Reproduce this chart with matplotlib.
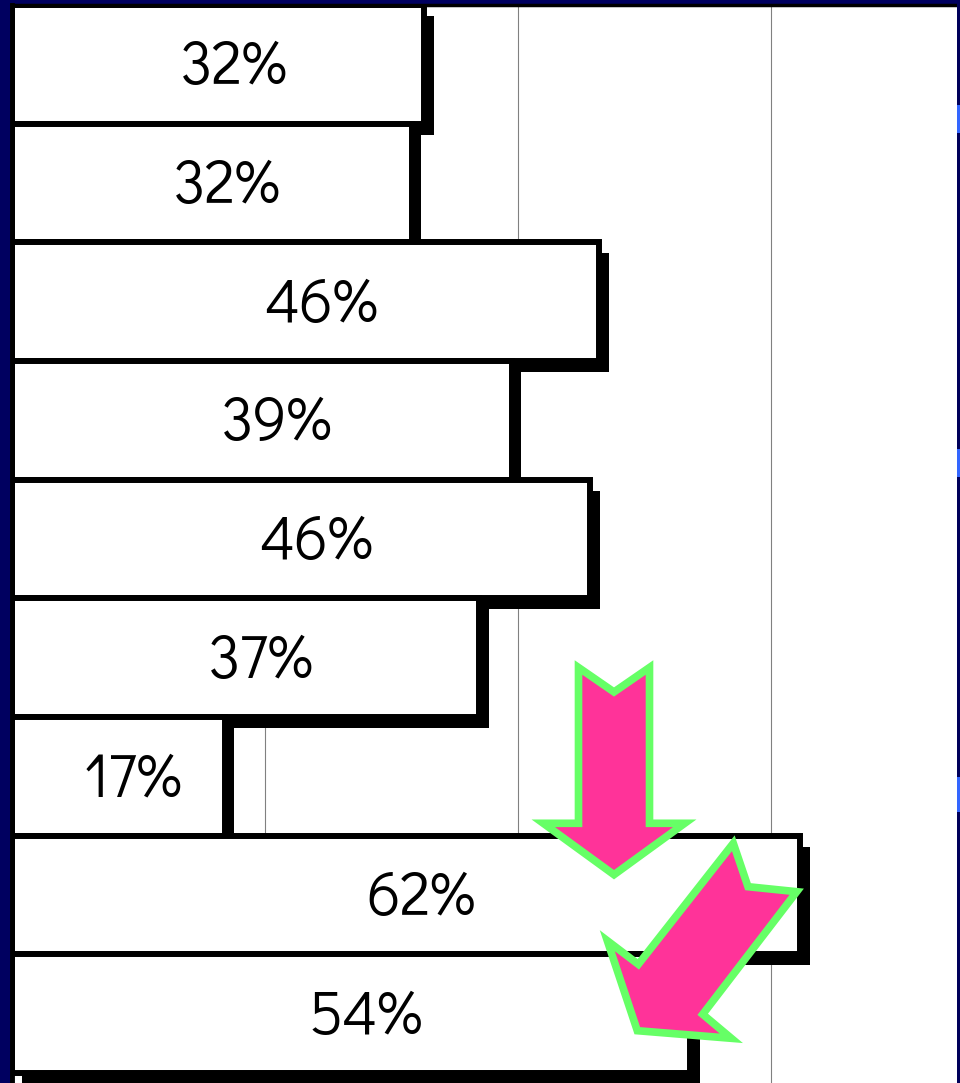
import matplotlib
matplotlib.use("Agg")
import matplotlib.pyplot as plt
import matplotlib.patheffects as pe
from matplotlib.patches import Polygon, Rectangle

# bar values (percent), top to bottom
values = [32.6, 31.6, 46.4, 39.5, 45.7, 36.9, 16.8, 62.3, 53.6]
labels = ['32%', '32%', '46%', '39%', '46%', '37%', '17%', '62%', '54%']
gridlines = [20, 40, 60]

W, H = 960, 1083
NAVY = '#000060'

fig = plt.figure(figsize=(W / 100, H / 100), dpi=100, facecolor=NAVY)
ax = fig.add_axes([12 / W, 0, 945 / W, 1078 / H])
ax.set_facecolor('white')

pos = list(range(len(values)))
shadow = [pe.SimplePatchShadow(offset=(7, -8), shadow_rgbFace='black', alpha=1.0),
          pe.Normal()]
bars = ax.barh(pos, values, height=1.0, color='white', edgecolor='black',
               linewidth=4.3, zorder=2)
for b in bars:
    b.set_path_effects(shadow)

for i, (v, t) in enumerate(zip(values, labels)):
    ax.text(v / 2 + 1.2, i + 0.03, t, ha='center', va='center', fontsize=44,
            family=['Didact Gothic', 'DejaVu Sans'], color='black', zorder=3)

for g in gridlines:
    ax.axvline(g, color='#808080', lw=0.8, zorder=1)

ax.set_xlim(0, 74.7)
ax.set_ylim(-0.5 + 1078 / 118.67, -0.5)
ax.set_xticks([])
ax.set_yticks([])
for s in ['right', 'bottom']:
    ax.spines[s].set_visible(False)
ax.spines['top'].set_linewidth(2.5)
ax.spines['left'].set_linewidth(3.5)
ax.spines['top'].set_zorder(4)
ax.spines['left'].set_zorder(4)


def fp(pts):
    return [(x / W, 1 - y / H) for x, y in pts]


# right edge strip with little blue marks
fig.patches.append(Rectangle((957 / W, 0), 3 / W, 1, transform=fig.transFigure,
                             facecolor='#00005a', edgecolor='none', zorder=5))
for y0, y1 in [(105, 133), (449, 477), (777, 812)]:
    fig.patches.append(Rectangle((957 / W, 1 - y1 / H), 3 / W, (y1 - y0) / H,
                                 transform=fig.transFigure, facecolor='#3366ff',
                                 edgecolor='none', zorder=6))

# annotation arrows
down_arrow = [(578.5, 667.5), (614, 692), (649.5, 667.5), (649.5, 823.3),
              (684.7, 823.3), (614, 874.7), (543.3, 823.3), (578.5, 823.3)]
diag_arrow = [(733.3, 843.3), (748, 886.7), (796.7, 891.7), (702.7, 1014.3),
              (731.3, 1038.3), (637.3, 1030.7), (607.3, 940.7), (638.3, 964.3)]
for shape in [down_arrow, diag_arrow]:
    fig.patches.append(Polygon(fp(shape), closed=True, transform=fig.transFigure,
                               facecolor='#ff3399', edgecolor='#66ff66',
                               linewidth=5.5, joinstyle='miter', zorder=10))

fig.savefig('out.png', dpi=100, facecolor=NAVY)
